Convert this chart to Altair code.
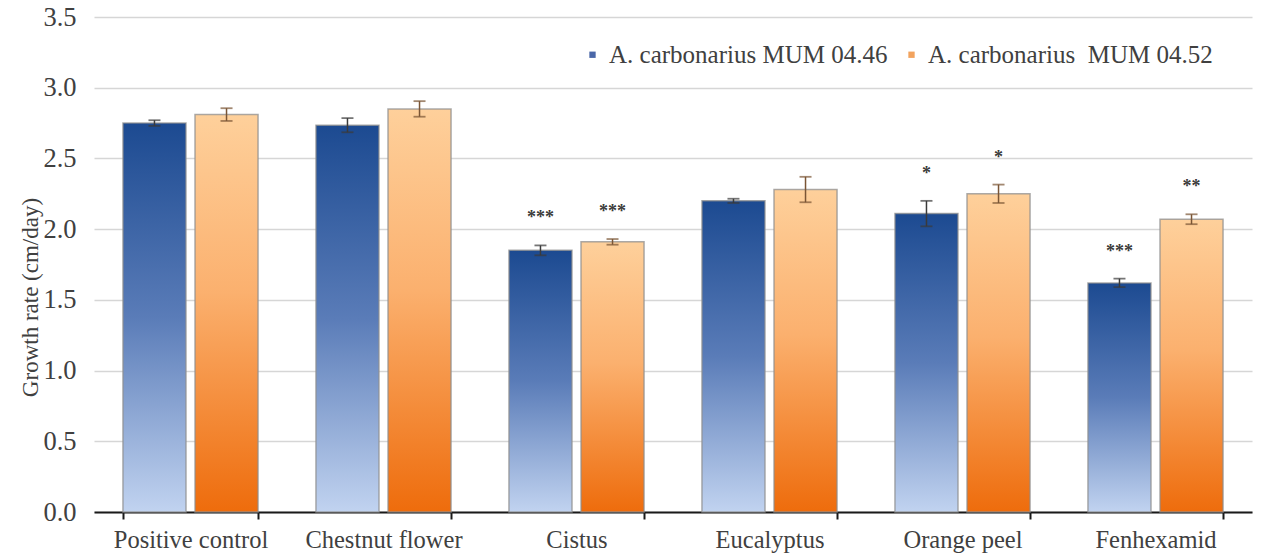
import altair as alt
import pandas as pd

categories = ["Positive control", "Chestnut flower", "Cistus", "Eucalyptus", "Orange peel", "Fenhexamid"]
series = ["A. carbonarius MUM 04.46", "A. carbonarius\u00a0 MUM 04.52"]
blue_values = [2.75, 2.735, 1.85, 2.20, 2.11, 1.62]
blue_err = [0.02, 0.05, 0.035, 0.015, 0.09, 0.03]
orange_values = [2.81, 2.85, 1.91, 2.28, 2.25, 2.07]
orange_err = [0.045, 0.055, 0.02, 0.09, 0.065, 0.035]
blue_stars = ["", "", "***", "", "*", "***"]
orange_stars = ["", "", "***", "", "*", "**"]
y_ticks = [0.0, 0.5, 1.0, 1.5, 2.0, 2.5, 3.0, 3.5]

rows = []
for i, c in enumerate(categories):
    for s, vals, errs, stars in [(series[0], blue_values, blue_err, blue_stars),
                                 (series[1], orange_values, orange_err, orange_stars)]:
        rows.append({"category": c, "series": s, "value": vals[i],
                     "lo": vals[i] - errs[i], "hi": vals[i] + errs[i], "star": stars[i]})
df = pd.DataFrame(rows)

YTITLE = "Growth rate (cm/day)"
TXT = "#404040"
FONT = "Liberation Serif, Times New Roman, serif"

x_enc = alt.X("category:N", sort=categories, title=None,
              scale=alt.Scale(paddingInner=0.3, paddingOuter=0.15),
              axis=alt.Axis(labelFont=FONT, labelFontSize=24.5, labelColor=TXT,
                            labelAngle=0, labelPadding=9, domainColor="#1a1a1a", domainWidth=2,
                            tickColor="#1a1a1a", tickWidth=2, tickSize=7, tickBand="extent",
                            grid=False, labelLimit=300))
xo_enc = alt.XOffset("series:N", scale=alt.Scale(domain=series, paddingInner=0.125, paddingOuter=0))
y_scale = alt.Scale(domain=[0, 3.5], nice=False)
y_axis = alt.Axis(values=y_ticks, format=".1f", labelFont=FONT, labelFontSize=26.5,
                  labelColor=TXT, labelPadding=18, ticks=False, domain=False, grid=True,
                  gridColor="#d6d6d6", gridWidth=1.5, titleFont=FONT,
                  titleFontSize=23, titleFontWeight="normal", titleColor=TXT,
                  titleX=-64, titleY=280, titleAngle=-90, titleAlign="center", titleBaseline="middle")


def Y(field):
    return alt.Y(f"{field}:Q", scale=y_scale, axis=y_axis, title=YTITLE)


base = alt.Chart(df)

blue_grad = alt.Gradient(gradient="linear", x1=0, x2=0, y1=0, y2=1,
                         stops=[alt.GradientStop(color="#1c4a91", offset=0),
                                alt.GradientStop(color="#5a7cb8", offset=0.5),
                                alt.GradientStop(color="#c1d3f0", offset=1)])
orange_grad = alt.Gradient(gradient="linear", x1=0, x2=0, y1=0, y2=1,
                           stops=[alt.GradientStop(color="#fed09b", offset=0),
                                  alt.GradientStop(color="#fbb06e", offset=0.45),
                                  alt.GradientStop(color="#ee6c0c", offset=1)])

bars_blue = base.transform_filter(alt.datum.series == series[0]).mark_bar(
    fill=blue_grad, stroke="#8f8f8f", strokeWidth=1.5, strokeOpacity=0.75
).encode(x=x_enc, xOffset=xo_enc, y=Y("value"))

bars_orange = base.transform_filter(alt.datum.series == series[1]).mark_bar(
    fill=orange_grad, stroke="#8f8f8f", strokeWidth=1.5, strokeOpacity=0.75
).encode(x=x_enc, xOffset=xo_enc, y=Y("value"))

legend_layer = base.mark_square(opacity=0, filled=True).encode(
    x=x_enc, xOffset=xo_enc, y=Y("value"),
    color=alt.Color("series:N", scale=alt.Scale(domain=series, range=["#4a67a8", "#f2a35e"]),
                    legend=alt.Legend(title=None, orient="none", legendX=486, legendY=25,
                                      direction="horizontal", symbolType="square", symbolSize=40,
                                      symbolOpacity=1, symbolStrokeWidth=0,
                                      labelFont=FONT, labelFontSize=25,
                                      labelColor=TXT, labelOffset=4, columnPadding=11,
                                      labelLimit=500))
)

err_stroke = alt.condition(alt.datum.series == series[0], alt.value("#3a3a3a"), alt.value("#7a5535"))

err_rule = base.mark_rule(strokeWidth=1.5).encode(
    x=x_enc, xOffset=xo_enc, y=Y("lo"), y2="hi:Q", stroke=err_stroke)
cap_hi = base.mark_tick(size=12, thickness=1.8).encode(
    x=x_enc, xOffset=xo_enc, y=Y("hi"), color=err_stroke)
cap_lo = base.mark_tick(size=12, thickness=1.8).encode(
    x=x_enc, xOffset=xo_enc, y=Y("lo"), color=err_stroke)

stars = base.transform_filter(alt.datum.star != "").mark_text(
    font=FONT, fontSize=18, fontWeight="bold", color="#3a3a3a",
    baseline="alphabetic", align="center", dy=-22
).encode(x=x_enc, xOffset=xo_enc, y=Y("hi"), text="star:N")

chart = alt.layer(bars_blue, bars_orange, legend_layer, err_rule, cap_hi, cap_lo, stars).properties(
    width=1158, height=495,
    autosize=alt.AutoSizeParams(type="none"),
    padding={"left": 94, "top": 17, "right": 14, "bottom": 45},
).configure(font=FONT, view=alt.ViewConfig(strokeWidth=0, strokeOpacity=0))

chart.save("out.html", embed_options={"renderer": "svg", "actions": False})
